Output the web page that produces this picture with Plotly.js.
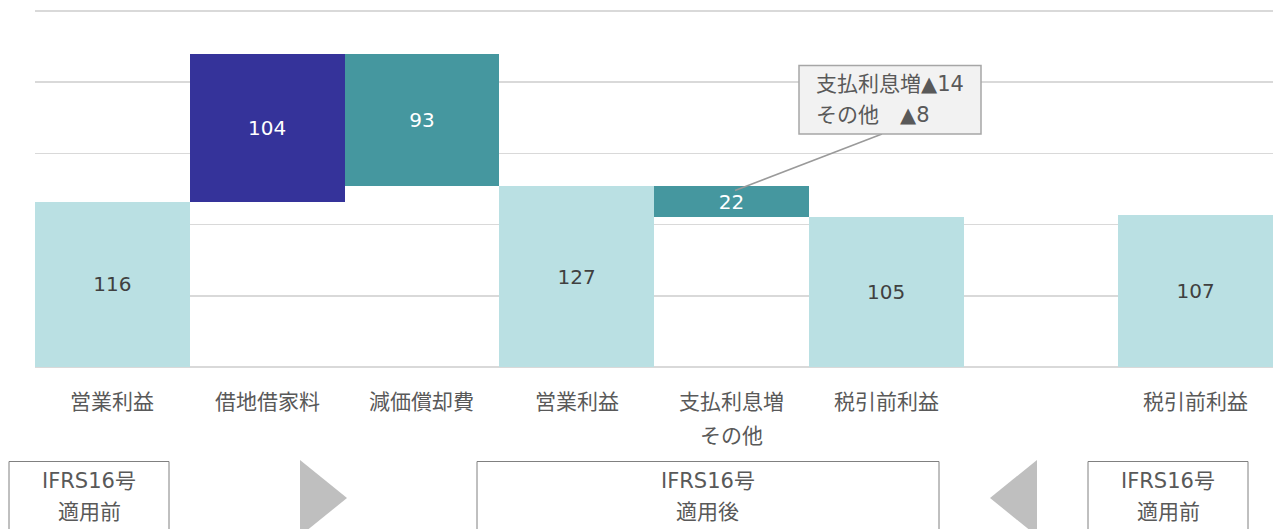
<!DOCTYPE html>
<html>
<head>
<meta charset="utf-8">
<script src="https://cdn.plot.ly/plotly-3.0.1.min.js"></script>
<style>html,body{margin:0;padding:0;background:#fff;}#chart{width:1277px;height:529px;}</style>
</head>
<body>
<div id="chart"></div>
<script>
// ---- data ----
const categories = ["営業利益", "借地借家料", "減価償却費", "営業利益", "支払利息増\nその他", "税引前利益", "", "税引前利益"];
const values = [116, 104, 93, 127, 22, 105, null, 107];
const bases = [0, 116, 127, 0, 105, 0, null, 0];
const barLabels = ["116", "104", "93", "127", "22", "105", "", "107"];
const barColors = ["#bae0e3", "#35339a", "#45979f", "#bae0e3", "#45979f", "#bae0e3", "#bae0e3", "#bae0e3"];
const barTextColors = ["#404040", "#ffffff", "#ffffff", "#404040", "#ffffff", "#404040", "#404040", "#404040"];
const gridValues = [0, 50, 100, 150, 200, 250];
const groupBoxes = [
  {label1: "IFRS16号", label2: "適用前", x0: 9, x1: 169},
  {label1: "IFRS16号", label2: "適用後", x0: 477, x1: 939},
  {label1: "IFRS16号", label2: "適用前", x0: 1088, x1: 1248}
];
const calloutLines = ["支払利息増▲14", "その他　▲8"];

// ---- layout geometry (pixels) ----
const W = 1277, H = 529;
const M = {l: 35, r: 4, t: 8, b: 159};
const plotW = W - M.l - M.r, plotH = H - M.t - M.b;
const px = v => (v - M.l) / plotW;
const py = v => (H - M.b - v) / plotH;

const FONT = "DejaVu Sans, Noto Sans CJK JP, sans-serif";
const xIdx = categories.map((c, i) => i);

const trace = {
  type: "bar",
  x: xIdx,
  y: values,
  base: bases,
  marker: {color: barColors, line: {width: 0}},
  text: barLabels,
  textposition: "inside",
  insidetextanchor: "middle",
  textangle: 0,
  constraintext: "none",
  textfont: {family: FONT, size: 20, color: barTextColors},
  hoverinfo: "skip",
  width: 1
};

const annotations = [];
const shapes = [];

// category labels
categories.forEach((c, i) => {
  c.split("\n").forEach((line, j) => {
    if (!line) return;
    annotations.push({
      xref: "x", yref: "paper", x: i, y: py(402 + j * 34),
      text: line, showarrow: false, xanchor: "center", yanchor: "middle",
      font: {family: FONT, size: 21, color: "#595959"}
    });
  });
});

// group boxes
groupBoxes.forEach(g => {
  shapes.push({type: "rect", xref: "paper", yref: "paper",
    x0: px(g.x0), x1: px(g.x1), y0: py(461.5), y1: py(545),
    line: {color: "#808080", width: 1}, fillcolor: "rgba(0,0,0,0)", layer: "above"});
  const cx = px((g.x0 + g.x1) / 2);
  annotations.push({xref: "paper", yref: "paper", x: cx, y: py(481), text: g.label1, showarrow: false,
    xanchor: "center", yanchor: "middle", font: {family: FONT, size: 21, color: "#595959"}});
  annotations.push({xref: "paper", yref: "paper", x: cx, y: py(512), text: g.label2, showarrow: false,
    xanchor: "center", yanchor: "middle", font: {family: FONT, size: 21, color: "#595959"}});
});

// arrows (triangles)
const tri = pts => "M " + pts.map(p => px(p[0]) + "," + py(p[1])).join(" L ") + " Z";
shapes.push({type: "path", xref: "paper", yref: "paper", path: tri([[300, 460], [347, 498], [300, 536]]),
  fillcolor: "#bfbfbf", line: {width: 0}});
shapes.push({type: "path", xref: "paper", yref: "paper", path: tri([[1037, 460], [990, 498], [1037, 536]]),
  fillcolor: "#bfbfbf", line: {width: 0}});

// callout
shapes.push({type: "line", xref: "paper", yref: "paper", x0: px(882), y0: py(134), x1: px(735), y1: py(190.5),
  line: {color: "#9a9a9a", width: 1.5}, layer: "above"});
shapes.push({type: "rect", xref: "paper", yref: "paper", x0: px(799), x1: px(981), y0: py(134), y1: py(65.5),
  fillcolor: "#f2f2f2", line: {color: "#a6a6a6", width: 1.5}, layer: "above"});
calloutLines.forEach((t, j) => {
  annotations.push({xref: "paper", yref: "paper", x: px(814), y: py(83.5 + j * 31.5), text: t, showarrow: false,
    xanchor: "left", yanchor: "middle", font: {family: FONT, size: 21, color: "#595959"}});
});

const layout = {
  width: W, height: H,
  margin: M,
  paper_bgcolor: "#ffffff", plot_bgcolor: "#ffffff",
  showlegend: false,
  bargap: 0,
  xaxis: {range: [-0.5, 7.5], showticklabels: false, showgrid: false, zeroline: false, showline: false, ticks: "", fixedrange: true},
  yaxis: {range: [-2.1, 252.1], tickvals: gridValues, showticklabels: false, showgrid: true,
    gridcolor: "#d9d9d9", gridwidth: 1.5, zeroline: false, showline: false, ticks: "", fixedrange: true},
  annotations: annotations,
  shapes: shapes,
  font: {family: FONT}
};

Plotly.newPlot("chart", [trace], layout, {displayModeBar: false, staticPlot: true});
</script>
</body>
</html>
